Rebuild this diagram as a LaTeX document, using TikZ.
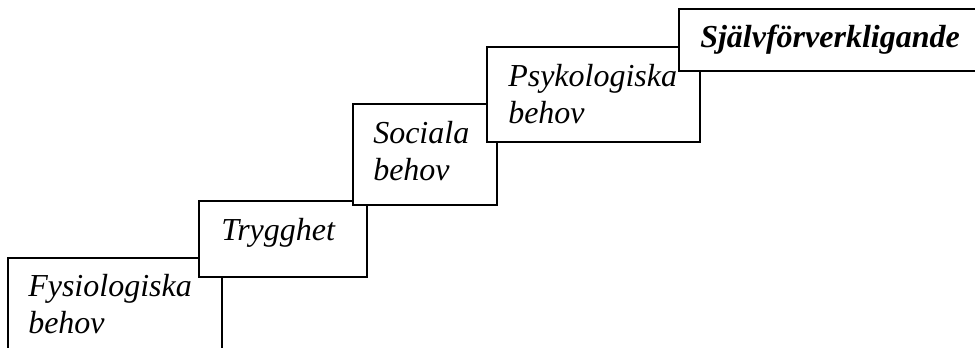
\documentclass[tikz,border=0pt]{standalone}
\usepackage{fontspec}
\setmainfont{Liberation Serif}

\tikzset{
  box/.style={line width=1.3pt, fill=white},
  lbl/.style={anchor=base west, inner sep=0pt, align=left,
    font=\fontsize{24}{27.75}\selectfont\itshape}
}

\begin{document}
\begin{tikzpicture}[x=0.75pt, y=-0.75pt]
        \useasboundingbox (0,0) rectangle (975,347);
        \clip (0,0) rectangle (975,347);
        % steps, bottom to top (base of a two-line label = last line)
        \filldraw [box] (8,258) rectangle (222,370);
        \node [lbl] (fys) at (28,333) {Fysiologiska\\behov};
        \filldraw [box] (199,201) rectangle (367,277);
        \node [lbl] (tryg) at (221,240) {Trygghet};
        \filldraw [box] (353,104) rectangle (497,205);
        \node [lbl] (soc) at (373,180) {Sociala\\behov};
        \filldraw [box] (487,47) rectangle (700,142);
        \node [lbl] (psy) at (508,123) {Psykologiska\\behov};
        \filldraw [box] (679,9) rectangle (990,71);
        \node [lbl, font=\fontsize{24}{27.75}\selectfont\bfseries\itshape] (self) at (700,47) {Självförverkligande};
    \end{tikzpicture}
\end{document}
